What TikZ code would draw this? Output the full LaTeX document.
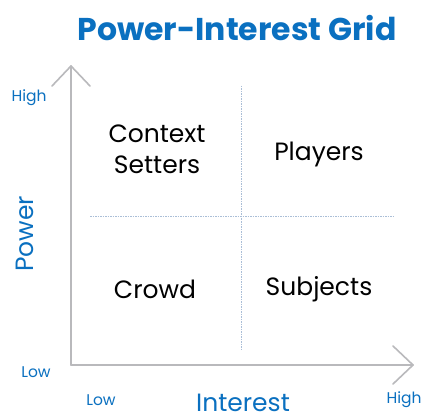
\documentclass[tikz,border=0pt]{standalone}
\usepackage{fontspec}
\setmainfont{Poppins}
\begin{document}
\begin{tikzpicture}[x=1pt,y=-1pt,
  every node/.style={inner sep=0pt, outer sep=0pt},
  axis/.style={draw=axisgray, line width=1.6pt, line cap=round, line join=round},
  divider/.style={draw=divblue, line width=0.6pt, dash pattern=on 1.5pt off 1pt},
  tick/.style={text=gridblue, font=\fontsize{15.5}{15.5}\selectfont},
  axistitle/.style={text=gridblue, font=\fontsize{25}{25}\selectfont},
  quad/.style={text=black, font=\fontsize{25}{31}\selectfont, align=center}]
\definecolor{gridblue}{RGB}{10,112,192}
\definecolor{axisgray}{RGB}{185,185,188}
\definecolor{divblue}{RGB}{170,190,215}
\useasboundingbox[fill=white] (0,0) rectangle (422,419);

% title
\node[text=gridblue, font=\fontsize{31.5}{31.5}\selectfont\bfseries] (title) at (237,28) {Power-Interest Grid};

% axes
\coordinate (origin) at (71,365);
\coordinate (ytip) at (71,66);
\coordinate (xtip) at (413,365);
\draw[axis] (origin) -- (ytip);
\draw[axis] (52,86) -- (ytip) -- (90,86);
\draw[axis] (origin) -- (xtip);
\draw[axis] (393,346) -- (xtip) -- (393,384);

% quadrant dividers
\coordinate (vtop) at (241,86);
\coordinate (vbot) at (241,351);
\coordinate (hleft) at (90,216);
\coordinate (hright) at (393,216);
\draw[divider] (vtop) -- (vbot);
\draw[divider] (hleft) -- (hright);

% axis labels
\node[tick] (yhigh) at (29,98) {High};
\node[tick] (ylow) at (36,372) {Low};
\node[tick] (xlow) at (101,400) {Low};
\node[tick] (xhigh) at (404,400) {High};
\node[axistitle, rotate=90] (power) at (25,234) {Power};
\node[axistitle, anchor=base, text depth=0pt] (interest) at (243,411) {Interest};

% quadrant names
\node[quad] (setters) at (157,149) {Context\\Setters};
\node[quad] (players) at (319,154) {Players};
\node[quad] (crowd) at (155,289) {Crowd};
\node[quad] (subjects) at (319,289) {Subjects};
\end{tikzpicture}
\end{document}
